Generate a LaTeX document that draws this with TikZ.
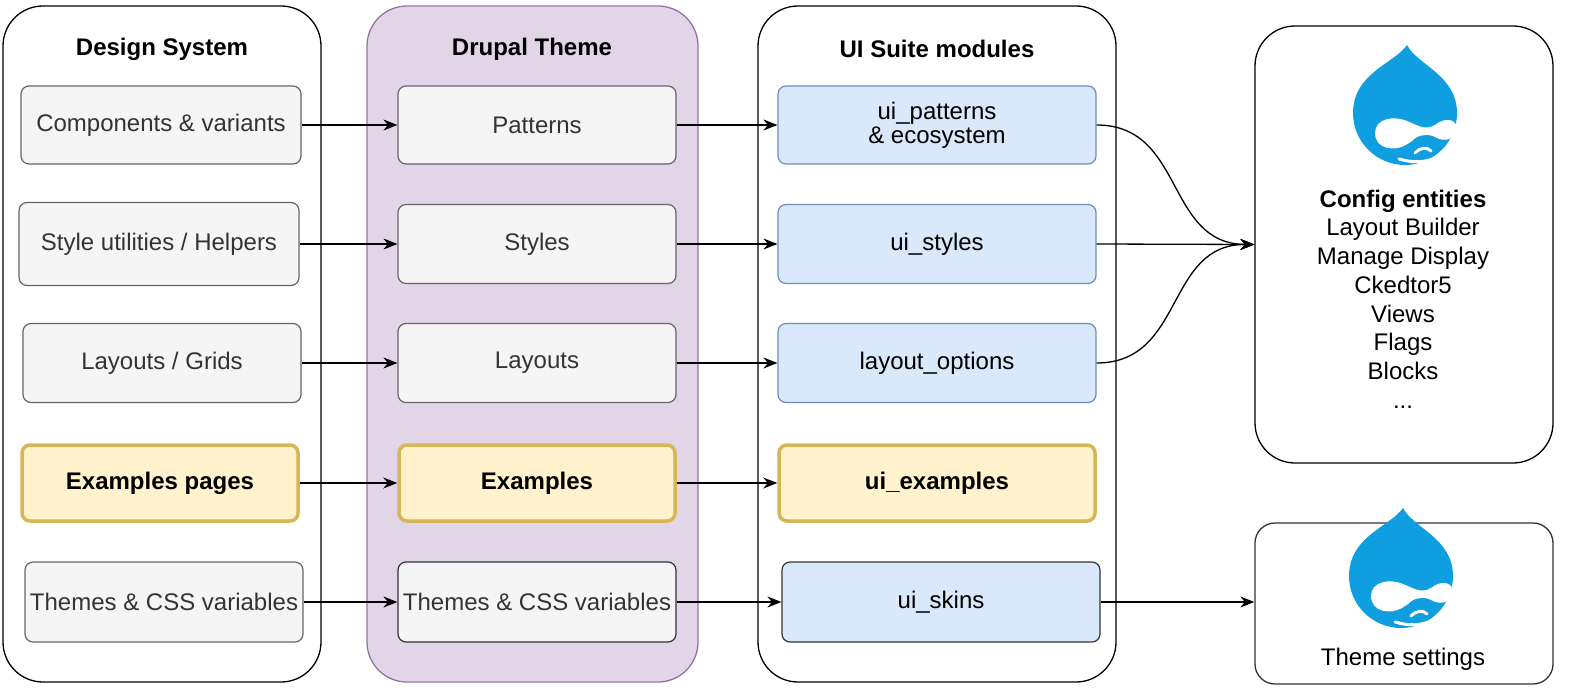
\documentclass[tikz,border=0pt]{standalone}
\usepackage{fontspec}
\setmainfont{Liberation Sans}
\usetikzlibrary{arrows.meta}
\definecolor{gfill}{HTML}{F5F5F5}\definecolor{gline}{HTML}{666666}
\definecolor{bfill}{HTML}{DAE8FC}\definecolor{bline}{HTML}{6C8EBF}
\definecolor{yfill}{HTML}{FFF2CC}\definecolor{yline}{HTML}{D6B656}
\definecolor{pfill}{HTML}{E1D5E7}\definecolor{pline}{HTML}{9673A6}
\definecolor{dblue}{HTML}{0F9FE0}\definecolor{txt}{HTML}{333333}
\begin{document}
\begin{tikzpicture}[x=1pt,y=-1pt,
  every node/.style={font=\fontsize{24}{28}\selectfont},
  cont/.style={draw=black,line width=1.3pt,rounded corners=40pt,fill=white},
  box/.style={draw=gline,fill=gfill,line width=1.2pt,rounded corners=8pt,text=txt,align=center},
  bbox/.style={draw=bline,fill=bfill,line width=1.2pt,rounded corners=8pt,text=black,align=center},
  ybox/.style={draw=yline,fill=yfill,line width=3.5pt,rounded corners=8pt,font=\fontsize{24}{28}\selectfont\bfseries,align=center},
  title/.style={font=\fontsize{24}{28}\selectfont\bfseries},
  arr/.style={-{Stealth[length=14pt,width=11pt]},line width=1.3pt}]
\useasboundingbox (0,0) rectangle (1578,698);
\newcommand\logo[2]{\begin{scope}[shift={(#1,#2)},yscale=-1]
 \fill[dblue] (2,68) .. controls (12,48) and (52,38) .. (52,0) arc[start angle=0,end angle=-180,radius=52] .. controls (-52,40) and (-10,50) .. (2,68);
 \fill[white] (-30,-20) .. controls (-30,-6) and (-12,-2) .. (2,-8) .. controls (12,-12) and (20,-18) .. (30,-12) .. controls (40,-4) and (50,-6) .. (52,-14) .. controls (52,-26) and (40,-30) .. (30,-24) .. controls (22,-20) and (16,-22) .. (4,-30) .. controls (-10,-40) and (-30,-36) .. (-30,-20) -- cycle;
 \fill[dblue] (6,-30) .. controls (12,-20) and (26,-20) .. (32,-28) .. controls (26,-24) and (12,-24) .. (6,-30);
 \draw[white,line width=3pt,line cap=round] (10,-40) .. controls (16,-34) and (22,-34) .. (26,-38);
 \draw[white,line width=3pt,line cap=round] (-6,-46) .. controls (8,-50) and (20,-50) .. (32,-44);
\end{scope}}
% containers
\node[cont,minimum width=318,minimum height=676] (ds) at (162,344) {};
\node[cont,fill=pfill,draw=pline,minimum width=331,minimum height=676] (dt) at (532.5,344) {};
\node[cont,minimum width=358,minimum height=676] (ui) at (937,344) {};
\node[title] (tds) at (162,49) {Design System};
\node[title] (tdt) at (532,49) {Drupal Theme};
\node[title] (tui) at (937,49) {UI Suite modules};
% DS
\node[box,minimum width=280,minimum height=78] (a1) at (161,125) {Components \& variants};
\node[box,minimum width=280,minimum height=83] (a2) at (159,244) {Style utilities / Helpers};
\node[box,minimum width=278,minimum height=79] (a3) at (162,363) {Layouts / Grids};
\node[ybox,minimum width=276,minimum height=76] (a4) at (160,483) {Examples pages};
\node[box,minimum width=278,minimum height=80] (a5) at (164,602) {Themes \& CSS variables};
% theme
\node[box,minimum width=278,minimum height=78] (b1) at (537,125) {Patterns};
\node[box,minimum width=278,minimum height=79] (b2) at (537,244) {Styles};
\node[box,minimum width=278,minimum height=79] (b3) at (537,363) {Layouts};
\node[ybox,minimum width=276,minimum height=76] (b4) at (537,483) {Examples};
\node[box,minimum width=278,minimum height=80,draw=black!80] (b5) at (537,602) {Themes \& CSS variables};
% ui
\node[bbox,minimum width=318,minimum height=78] (c1) at (937,125) {ui\_patterns\\[-4pt]\& ecosystem};
\node[bbox,minimum width=318,minimum height=79] (c2) at (937,244) {ui\_styles};
\node[bbox,minimum width=318,minimum height=79] (c3) at (937,363) {layout\_options};
\node[ybox,minimum width=316,minimum height=76] (c4) at (937,483) {ui\_examples};
\node[bbox,minimum width=318,minimum height=80,draw=black!80] (c5) at (941,602) {ui\_skins};
% right
\node[draw=black,line width=1.3pt,rounded corners=40pt,minimum width=298,minimum height=437] (cfg) at (1404,244.5) {};
\node[draw=black!80,line width=1.3pt,rounded corners=20pt,minimum width=298,minimum height=161] (ts) at (1404,603.5) {};
\logo{1405}{113}
\logo{1401}{576}
\node[align=center,font=\fontsize{24}{28.7}\selectfont] (cfgt) at (1403,299) {\textbf{Config entities}\\Layout Builder\\Manage Display\\Ckedtor5\\Views\\Flags\\Blocks\\...};
\node (tst) at (1403,659) {Theme settings};
% arrows
\foreach \i in {1,...,5}{\draw[arr] (a\i.east) -- (b\i.west|-a\i.east);}
\foreach \i in {1,...,5}{\draw[arr] (b\i.east) -- (c\i.west|-b\i.east);}
\draw[arr] (c1.east) .. controls (1185,125) and (1165,244) .. (cfg.west);
\draw[arr] (c2.east) -- (cfg.west);
\draw[arr] (c3.east) .. controls (1185,363) and (1165,244) .. (cfg.west);
\draw[arr] (c5.east) -- (ts.west|-c5.east);
\end{tikzpicture}
\end{document}
